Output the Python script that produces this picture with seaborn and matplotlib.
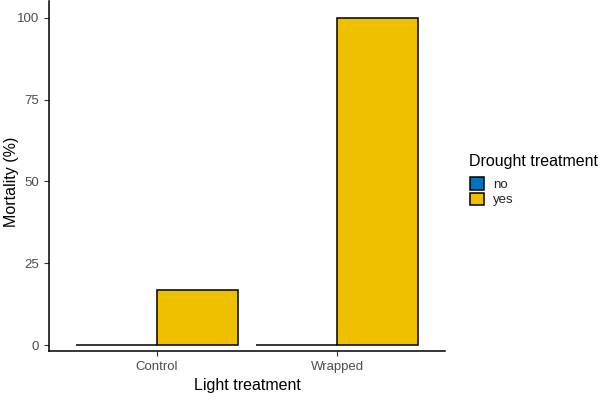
import pandas as pd
import seaborn as sns
import matplotlib.pyplot as plt

# Data
light = ['Control', 'Control', 'Wrapped', 'Wrapped']
drought = ['no', 'yes', 'no', 'yes']
mortality = [0, 16.7, 0, 100]

df = pd.DataFrame({'Light treatment': light,
                   'Drought treatment': drought,
                   'Mortality': mortality})

palette = {'no': '#0073C2', 'yes': '#EFC000'}

sns.set_style('ticks')
plt.rcParams['font.family'] = ['Liberation Sans', 'DejaVu Sans']

fig = plt.figure(figsize=(6, 4.01), dpi=100)
ax = fig.add_axes([0.0817, 0.1247, 0.66, 0.8733])

sns.barplot(data=df, x='Light treatment', y='Mortality', hue='Drought treatment',
            palette=palette, width=0.9, gap=0, saturation=1,
            edgecolor='black', linewidth=1.1, ax=ax, legend=True)

ax.set_xlim(-0.6, 1.6)
ax.set_ylim(-1.8, 105.2)
ax.set_yticks([0, 25, 50, 75, 100])
ax.set_xlabel('Light treatment', fontsize=11.5, color='black')
ax.set_ylabel('Mortality (%)', fontsize=11.5, color='black')
ax.yaxis.set_label_coords(-0.077, 0.484)
ax.tick_params(axis='both', labelsize=9.5, labelcolor='#4D4D4D', length=3.5,
               width=0.8, color='#333333')
for s in ['top', 'right']:
    ax.spines[s].set_visible(False)
for s in ['left', 'bottom']:
    ax.spines[s].set_linewidth(1.1)
    ax.spines[s].set_color('black')

# legend: title drawn separately for ggplot-like spacing
handles, labels = ax.get_legend_handles_labels()
ax.legend(handles, labels, loc='upper left',
          bbox_to_anchor=(0.772, 0.5745), bbox_transform=fig.transFigure,
          frameon=False, fontsize=9.5,
          handlelength=1.08, handleheight=1.08, handletextpad=0.7,
          labelspacing=0.12, borderpad=0)
fig.text(0.781, 1 - 165.7 / 401, 'Drought treatment', fontsize=11.5,
         ha='left', va='baseline', color='black')

plt.savefig('out.png', dpi=100)
